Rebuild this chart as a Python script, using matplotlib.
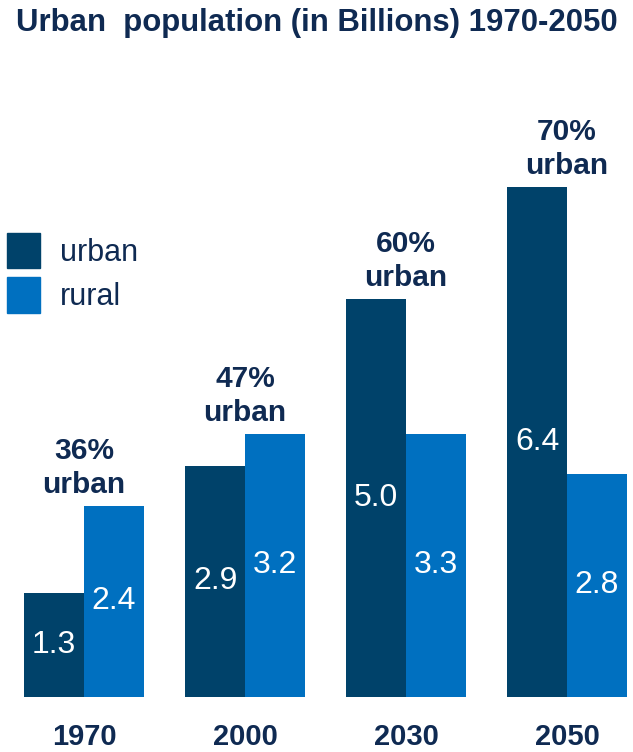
import numpy as np
import matplotlib.pyplot as plt
from matplotlib.patches import Patch

plt.rcParams['font.family'] = ['Liberation Sans', 'DejaVu Sans']

years = ['1970', '2000', '2030', '2050']
urban = [1.3, 2.9, 5.0, 6.4]
rural = [2.4, 3.3, 3.3, 2.8]
urban_lbl = ['1.3', '2.9', '5.0', '6.4']
rural_lbl = ['2.4', '3.2', '3.3', '2.8']
pct_urban = ['36%', '47%', '60%', '70%']

c_urban = '#00426A'
c_rural = '#0070C0'
c_text = '#0F2A52'

fig = plt.figure(figsize=(6.33, 7.52), dpi=100)
# ejes en pixeles: base en y=697 px desde arriba, 79.7 px por unidad
ax = fig.add_axes([0, 55 / 752, 1, 8 * 79.7 / 752])
x = np.arange(len(years))
w = 0.37

b1 = ax.bar(x - w / 2, urban, w, color=c_urban, label='urban')
b2 = ax.bar(x + w / 2, rural, w, color=c_rural, label='rural')
ax.bar_label(b1, labels=urban_lbl, label_type='center', color='white', fontsize=23)
ax.bar_label(b2, labels=rural_lbl, label_type='center', color='white', fontsize=23)

for i in range(len(years)):
    top = max(urban[i], rural[i])
    ax.annotate(pct_urban[i] + '\nurban', (x[i], top), xytext=(0, 7),
                textcoords='offset pixels', ha='center', va='bottom',
                fontsize=21.5, fontweight='bold', color=c_text, linespacing=1.25)

ax.set_xlim(-84 / 161, (633 - 84) / 161)
ax.set_ylim(0, 8)
ax.set_xticks(x)
ax.set_xticklabels(years, fontsize=21, fontweight='bold', color=c_text)
ax.tick_params(axis='x', length=0, pad=19)
ax.set_yticks([])
for s in ax.spines.values():
    s.set_visible(False)

fig.text(0.5, 1 - 23 / 752, 'Urban  population (in Billions) 1970-2050',
         ha='center', va='center', fontsize=22.4, fontweight='bold', color=c_text)

handles = [Patch(color=c_urban, label='urban'), Patch(color=c_rural, label='rural')]
fig.legend(handles=handles, loc='upper left', bbox_to_anchor=(7 / 633, 1 - 233 / 752),
           frameon=False, fontsize=22, labelcolor=c_text, handlelength=1.08,
           handleheight=1.4, handletextpad=0.65, labelspacing=0.3,
           borderpad=0, borderaxespad=0)

plt.savefig('out.png', dpi=100)
